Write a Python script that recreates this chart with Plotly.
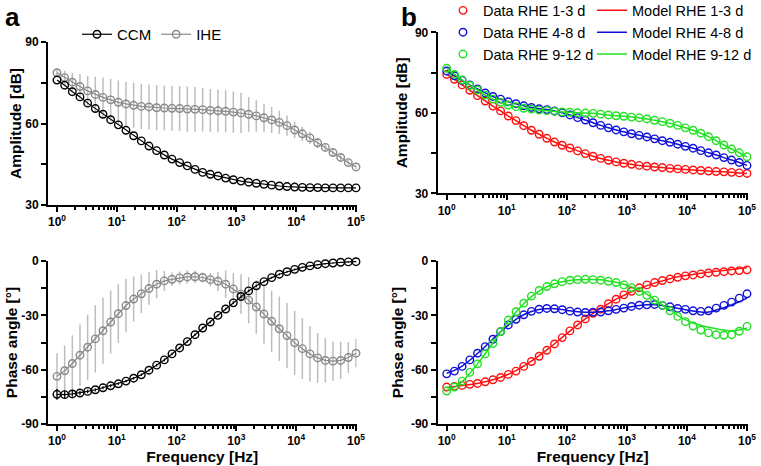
# Bode plots: (a) CCM vs IHE, (b) RHE data + model fits

import plotly.graph_objects as go

W, H = 761, 466
FONT = "Liberation Sans, Arial, sans-serif"

# ---------------------------------------------------------------------------
# Data
# ---------------------------------------------------------------------------
freq = [1.0, 1.344, 1.805, 2.424, 3.257, 4.375, 5.878, 7.897, 10.61, 14.25,
        19.15, 25.72, 34.55, 46.42, 62.36, 83.77, 112.5, 151.2, 203.1, 272.9,
        366.6, 492.5, 661.6, 888.8, 1194, 1604, 2154, 2894, 3888, 5223,
        7017, 9427, 12664, 17013, 22855, 30703, 41246, 55410, 74438, 100000]

# panel a
ccm_amp = [76.0, 74.1, 71.7, 69.8, 67.5, 65.5, 63.4, 61.4, 59.5, 57.5,
           55.5, 53.6, 51.7, 50.0, 48.4, 46.9, 45.6, 44.4, 43.1, 42.0,
           41.3, 40.7, 39.9, 39.3, 38.8, 38.4, 38.0, 37.6, 37.3, 37.0,
           36.8, 36.6, 36.5, 36.4, 36.4, 36.3, 36.3, 36.3, 36.3, 36.3]
ihe_amp = [78.7, 76.9, 75.2, 73.6, 72.0, 70.7, 69.6, 68.7, 67.8, 67.2,
           66.7, 66.3, 66.1, 65.8, 65.7, 65.6, 65.5, 65.3, 65.2, 65.1,
           64.8, 64.7, 64.5, 64.2, 63.9, 63.4, 62.8, 62.1, 61.3, 60.4,
           59.2, 57.6, 56.2, 54.7, 52.9, 51.2, 49.3, 47.5, 45.6, 44.0]
ihe_amp_sd = [1.5, 2.5, 3.5, 4.5, 5.5, 6.5, 7.3, 7.8, 8.0, 8.2,
              8.3, 8.3, 8.3, 8.3, 8.3, 8.3, 8.3, 8.3, 8.2, 8.0,
              7.9, 7.8, 7.7, 7.6, 7.4, 6.4, 5.8, 5.2, 4.8, 4.3,
              3.7, 3.0, 2.6, 2.2, 1.9, 1.6, 1.4, 1.2, 1.0, 0.8]
ccm_ph = [-73.6, -73.8, -73.4, -72.9, -72.0, -71.1, -70.0, -68.9, -67.8, -66.3,
          -64.7, -62.8, -60.3, -57.5, -54.6, -51.3, -48.0, -44.5, -40.7, -37.0,
          -33.7, -30.0, -26.5, -23.1, -19.6, -16.5, -13.7, -11.4, -9.2, -7.3,
          -5.9, -4.6, -3.5, -2.7, -2.0, -1.5, -1.1, -0.7, -0.5, -0.4]
ccm_ph_sd = [3.0, 2.2, 1.6, 1.2, 1.0, 0.9, 0.8, 0.8, 0.7, 0.7,
             0.7, 0.7, 0.7, 0.7, 0.7, 0.7, 0.7, 0.7, 0.7, 0.7,
             0.7, 0.7, 0.7, 0.7, 0.7, 0.6, 0.6, 0.6, 0.5, 0.5,
             0.5, 0.5, 0.4, 0.4, 0.4, 0.4, 0.3, 0.3, 0.3, 0.3]
ihe_ph = [-63.7, -60.6, -56.6, -52.0, -47.6, -43.0, -38.5, -33.7, -29.1, -24.6,
          -21.0, -18.1, -15.2, -12.8, -11.0, -10.1, -9.3, -8.8, -8.7, -9.1,
          -10.3, -11.2, -12.8, -15.4, -18.3, -21.6, -25.4, -29.3, -33.3, -37.4,
          -41.2, -45.2, -48.4, -51.3, -53.5, -54.9, -55.3, -54.9, -53.3, -50.9]
ihe_ph_sd = [12.7, 14.0, 15.6, 17.0, 17.9, 18.6, 18.3, 17.4, 16.2, 14.7,
             12.4, 10.7, 9.0, 7.8, 5.5, 3.7, 3.5, 3.7, 3.5, 2.7,
             3.7, 5.3, 7.6, 8.7, 11.0, 12.8, 14.8, 16.3, 16.9, 17.8,
             18.0, 17.6, 16.8, 15.3, 13.7, 12.2, 10.8, 10.3, 8.5, 7.8]

# panel b
red_amp = [74.3, 72.5, 70.4, 68.4, 66.4, 64.4, 62.5, 60.7, 58.8, 57.1,
           55.2, 53.5, 52.0, 50.5, 49.1, 47.9, 46.9, 45.8, 44.8, 43.8,
           43.0, 42.3, 41.7, 41.2, 40.8, 40.4, 40.1, 39.8, 39.6, 39.3,
           39.1, 38.9, 38.7, 38.5, 38.3, 38.1, 38.0, 37.8, 37.6, 37.4]
blue_amp = [75.6, 73.8, 72.1, 70.4, 68.9, 67.4, 66.1, 65.1, 64.1, 63.4,
            62.6, 62.0, 61.5, 61.2, 60.7, 60.0, 59.2, 58.2, 57.3, 56.3,
            55.3, 54.4, 53.6, 52.9, 52.2, 51.6, 51.0, 50.3, 49.6, 49.0,
            48.3, 47.5, 46.8, 45.9, 45.1, 44.3, 43.3, 42.4, 41.5, 40.4]
green_amp = [76.6, 74.3, 72.3, 70.2, 68.5, 66.6, 65.1, 63.9, 62.9, 62.3,
             61.7, 61.4, 61.0, 60.8, 60.5, 60.3, 60.2, 60.0, 59.9, 59.8,
             59.5, 59.2, 58.9, 58.7, 58.4, 58.1, 57.7, 57.2, 56.7, 56.1,
             55.3, 54.4, 53.5, 52.4, 51.1, 49.6, 48.0, 46.5, 45.1, 43.6]
red_ph = [-69.6, -69.2, -68.7, -68.1, -67.6, -66.7, -65.6, -64.3, -62.6, -60.8,
          -58.2, -55.5, -52.6, -49.3, -45.8, -42.3, -38.6, -35.3, -32.0, -28.9,
          -26.6, -23.6, -21.1, -18.7, -16.7, -14.8, -13.2, -11.9, -10.8, -9.9,
          -9.0, -8.2, -7.7, -7.1, -6.6, -6.2, -5.9, -5.5, -5.3, -4.9]
blue_ph = [-62.3, -60.8, -58.2, -54.6, -50.9, -47.3, -43.2, -39.0, -35.3, -32.2,
           -29.7, -27.8, -26.6, -26.2, -26.4, -26.9, -27.7, -28.2, -28.4, -28.3,
           -28.2, -27.5, -26.7, -26.0, -25.1, -24.4, -24.2, -24.0, -24.5, -25.3,
           -26.2, -26.7, -27.5, -27.8, -27.5, -26.0, -24.5, -22.7, -20.5, -18.1]
green_ph = [-71.8, -69.6, -66.3, -61.5, -56.8, -51.3, -45.6, -39.0, -32.6, -28.0,
            -23.3, -19.4, -16.3, -14.1, -12.6, -11.4, -10.6, -10.3, -10.1, -10.3,
            -10.6, -11.2, -11.9, -13.2, -14.7, -16.8, -19.0, -21.6, -24.5, -27.5,
            -30.6, -33.5, -35.9, -38.1, -39.7, -40.7, -41.0, -40.7, -38.8, -36.1]

# model fits (amplitude fits sit on the data)
mod_red_amp = red_amp
mod_blue_amp = blue_amp
mod_green_amp = green_amp
mod_red_ph = [-69.8, -69.3, -68.8, -68.2, -67.6, -66.7, -65.6, -64.2, -62.5, -60.5,
              -58.0, -55.3, -52.3, -49.1, -45.7, -42.2, -38.7, -35.3, -32.0, -28.9,
              -26.1, -23.5, -21.1, -19.0, -17.0, -15.2, -13.6, -12.2, -11.0, -9.8,
              -8.7, -8.0, -7.4, -6.8, -6.2, -5.7, -5.2, -4.7, -4.2, -3.7]
mod_blue_ph = [-62.0, -60.4, -58.0, -54.8, -51.1, -47.2, -43.1, -39.1, -35.4, -32.2,
               -29.7, -27.9, -26.8, -26.3, -26.3, -26.8, -27.5, -28.0, -28.3, -28.3,
               -28.0, -27.5, -26.8, -26.0, -25.2, -24.6, -24.2, -24.2, -24.6, -25.3,
               -26.1, -26.9, -27.6, -28.2, -28.2, -27.1, -25.8, -24.2, -22.5, -20.5]
mod_green_ph = [-71.5, -69.6, -66.6, -62.0, -56.8, -51.2, -45.3, -39.2, -33.3, -28.2,
                -23.6, -19.7, -16.6, -14.2, -12.6, -11.5, -10.8, -10.4, -10.2, -10.2,
                -10.4, -11.0, -11.7, -12.8, -14.3, -16.1, -18.3, -21.4, -24.2, -26.9,
                -30.0, -32.4, -34.2, -35.5, -36.6, -37.4, -38.1, -38.5, -38.1, -37.0]

# axis ticks
x_major = [1, 10, 100, 1000, 10000, 100000]
x_major_text = ["10<sup>0</sup>", "10<sup>1</sup>", "10<sup>2</sup>",
                "10<sup>3</sup>", "10<sup>4</sup>", "10<sup>5</sup>"]
x_minor = [m * d for d in [1, 10, 100, 1000, 10000] for m in range(2, 10)]
amp_ticks = [30, 45, 60, 75, 90]
amp_text = ["30", "", "60", "", "90"]
ph_ticks = [-90, -75, -60, -45, -30, -15, 0]
ph_text = ["-90", "", "-60", "", "-30", "", "0"]

RED, BLUE, GREEN = "#ff1010", "#1010d8", "#22e022"
GRAY, GRAY_ERR = "#8a8a8a", "#bdbdbd"

# ---------------------------------------------------------------------------
# Figure
# ---------------------------------------------------------------------------
fig = go.Figure()


def marker(color):
    return dict(symbol="circle-open", size=7.5, color=color, line=dict(width=1.4, color=color))


# panel a: amplitude
fig.add_trace(go.Scatter(x=freq, y=ihe_amp, mode="lines+markers", name="IHE",
                         line=dict(color=GRAY, width=1.2), marker=marker(GRAY),
                         error_y=dict(type="data", array=ihe_amp_sd, color=GRAY_ERR,
                                      thickness=1.5, width=0),
                         xaxis="x", yaxis="y", legend="legend", legendrank=2,
                         cliponaxis=False))
fig.add_trace(go.Scatter(x=freq, y=ccm_amp, mode="lines+markers", name="CCM",
                         line=dict(color="black", width=1.2), marker=marker("black"),
                         xaxis="x", yaxis="y", legend="legend", legendrank=1,
                         cliponaxis=False))
# panel a: phase
fig.add_trace(go.Scatter(x=freq, y=ihe_ph, mode="lines+markers", showlegend=False,
                         line=dict(color=GRAY, width=1.2), marker=marker(GRAY),
                         error_y=dict(type="data", array=ihe_ph_sd, color=GRAY_ERR,
                                      thickness=1.5, width=0),
                         xaxis="x2", yaxis="y2", cliponaxis=False))
fig.add_trace(go.Scatter(x=freq, y=ccm_ph, mode="lines+markers", showlegend=False,
                         line=dict(color="black", width=1.2), marker=marker("black"),
                         error_y=dict(type="data", array=ccm_ph_sd, color="black",
                                      thickness=1.2, width=0),
                         xaxis="x2", yaxis="y2", cliponaxis=False))

# panel b
series_b = [
    ("RHE 1-3 d", RED, red_amp, red_ph, mod_red_amp, mod_red_ph),
    ("RHE 4-8 d", BLUE, blue_amp, blue_ph, mod_blue_amp, mod_blue_ph),
    ("RHE 9-12 d", GREEN, green_amp, green_ph, mod_green_amp, mod_green_ph),
]
for name, col, amp, ph, mamp, mph in series_b:
    fig.add_trace(go.Scatter(x=freq, y=amp, mode="markers", name="Data " + name,
                             marker=marker(col), xaxis="x3", yaxis="y3",
                             legend="legend2", cliponaxis=False))
    fig.add_trace(go.Scatter(x=freq, y=mamp, mode="lines", name="Model " + name,
                             line=dict(color=col, width=1.5, shape="spline"),
                             xaxis="x3", yaxis="y3", legend="legend3", cliponaxis=False))
    fig.add_trace(go.Scatter(x=freq, y=ph, mode="markers", showlegend=False,
                             marker=marker(col), xaxis="x4", yaxis="y4", cliponaxis=False))
    fig.add_trace(go.Scatter(x=freq, y=mph, mode="lines", showlegend=False,
                             line=dict(color=col, width=1.5, shape="spline"),
                             xaxis="x4", yaxis="y4", cliponaxis=False))

# ---------------------------------------------------------------------------
# Axes
# ---------------------------------------------------------------------------
tickfont = dict(family=FONT, size=12, color="black", weight="bold")
titlefont = dict(family=FONT, size=15.5, color="black", weight="bold")
common = dict(showline=True, linecolor="black", linewidth=2, ticks="outside",
              tickwidth=2, ticklen=5, tickcolor="black", showgrid=False,
              zeroline=False, tickfont=tickfont, automargin=False)


def xax(domain, anchor, title=None):
    d = dict(common, type="log", domain=domain, anchor=anchor, range=[-0.15, 5.01],
             tickmode="array", tickvals=x_major, ticktext=x_major_text,
             minor=dict(tickmode="array", tickvals=x_minor, ticks="outside",
                        ticklen=3, tickwidth=1.5, tickcolor="black"))
    if title:
        d["title"] = dict(text=title, font=titlefont, standoff=2)
    return d


def yax(domain, anchor, rng, vals, text, title, standoff):
    return dict(common, domain=domain, anchor=anchor, range=rng,
                tickmode="array", tickvals=vals, ticktext=text,
                title=dict(text=title, font=titlefont, standoff=standoff))


def fx(px):
    return px / W


def fy(px):
    return 1 - px / H


xa = [fx(48), fx(356.6)]
xb = [fx(437.7), fx(747.6)]
legend_font = dict(family=FONT, size=15, color="black")
legend_font_b = dict(family=FONT, size=14.5, color="black")

fig.update_layout(
    width=W, height=H,
    margin=dict(l=0, r=0, t=0, b=0, autoexpand=False),
    paper_bgcolor="white", plot_bgcolor="white",
    font=dict(family=FONT, color="black"),
    xaxis=xax(xa, "y"),
    yaxis=yax([fy(205), fy(42)], "x", [30, 90], amp_ticks, amp_text, "Amplitude [dB]", 0),
    xaxis2=xax(xa, "y2", "Frequency [Hz]"),
    yaxis2=yax([fy(424), fy(261)], "x2", [-90, 0], ph_ticks, ph_text, "Phase angle [°]", 0),
    xaxis3=xax(xb, "y3"),
    yaxis3=yax([fy(193.3), fy(32.3)], "x3", [30, 90], amp_ticks, amp_text, "Amplitude [dB]", 4),
    xaxis4=xax(xb, "y4", "Frequency [Hz]"),
    yaxis4=yax([fy(424), fy(261)], "x4", [-90, 0], ph_ticks, ph_text, "Phase angle [°]", 4),
    legend=dict(orientation="h", x=fx(77), y=fy(18), xanchor="left", yanchor="top",
                bgcolor="rgba(0,0,0,0)", itemwidth=30, font=legend_font),
    legend2=dict(x=fx(443), y=1.012, xanchor="left", yanchor="top",
                 bgcolor="rgba(0,0,0,0)", itemwidth=30, tracegroupgap=0,
                 font=legend_font_b),
    legend3=dict(x=fx(592), y=1.012, xanchor="left", yanchor="top",
                 bgcolor="rgba(0,0,0,0)", itemwidth=30, tracegroupgap=0,
                 font=legend_font_b),
    annotations=[
        dict(text="a", x=fx(3), y=fy(0), xref="paper", yref="paper",
             xanchor="left", yanchor="top", showarrow=False,
             font=dict(family=FONT, size=26, color="black", weight="bold")),
        dict(text="b", x=fx(399), y=fy(0), xref="paper", yref="paper",
             xanchor="left", yanchor="top", showarrow=False,
             font=dict(family=FONT, size=26, color="black", weight="bold")),
    ],
)

# the page's default 8px body margin would shift the whole figure
fig.write_html("out.html", config={"displayModeBar": False},
               post_script="document.body.style.margin = '0';")
